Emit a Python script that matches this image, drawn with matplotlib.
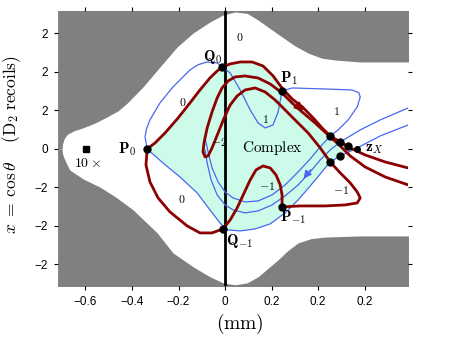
import matplotlib
matplotlib.use("Agg")
import matplotlib.pyplot as plt
import numpy as np

plt.rcParams['mathtext.fontset'] = 'cm'
plt.rcParams['font.family'] = ['Liberation Sans', 'DejaVu Sans']

# ---------------- data ----------------
XLIM = (-0.718, 0.787)
YLIM = (-3.56, 3.58)
XTICKS = [-0.6, -0.4, -0.2, 0.0, 0.2, 0.4, 0.6]
XTICKLABELS = ["\u22120.6", "\u22120.4", "\u22120.2", "0", "0.2", "0.2", "0.2"]
YTICKS = [-3, -2, -1, 0, 1, 2, 3]
YTICKLABELS = ["\u22122", "\u22122", "\u22122", "0", "2", "2", "2"]

# forbidden (gray) region boundaries
UPPER_X = [-0.72, -0.701, -0.699, -0.692, -0.678, -0.650, -0.610, -0.560, -0.508, -0.460,
           -0.421, -0.353, -0.280, -0.206, -0.138, -0.065, -0.009, 0.043, 0.095, 0.142,
           0.195, 0.245, 0.300, 0.357, 0.415, 0.473, 0.580, 0.79]
UPPER_Y = [0, 0, 0.12, 0.26, 0.38, 0.47, 0.55, 0.67, 0.83, 0.99,
           1.19, 1.61, 2.13, 2.65, 3.01, 3.30, 3.48, 3.56, 3.52, 3.35,
           3.12, 2.91, 2.68, 2.49, 2.36, 2.31, 2.26, 2.26]
LOWER_X = [-0.72, -0.701, -0.699, -0.692, -0.680, -0.667, -0.610, -0.538, -0.470, -0.396,
           -0.292, -0.224, -0.138, -0.065, -0.009, 0.043, 0.095, 0.142, 0.185, 0.228,
           0.270, 0.314, 0.370, 0.430, 0.580, 0.79]
LOWER_Y = [0, 0, -0.12, -0.24, -0.40, -0.55, -0.78, -0.99, -1.25, -1.58,
           -2.18, -2.70, -3.06, -3.32, -3.48, -3.53, -3.48, -3.32, -3.10, -2.88,
           -2.64, -2.44, -2.33, -2.29, -2.26, -2.26]

# red trajectory A : P0 -> Q0 -> P1 -> zX region -> right edge
RED_A_X = [-0.335, -0.301, -0.258, -0.202, -0.151, -0.108, -0.065, -0.034, -0.013, 0.022,
           0.065, 0.116, 0.163, 0.206, 0.245, 0.288, 0.331, 0.383, 0.417, 0.452,
           0.495, 0.538, 0.602, 0.688, 0.787]
RED_A_Y = [0.0, 0.156, 0.416, 0.805, 1.195, 1.532, 1.844, 2.026, 2.130, 2.208,
           2.260, 2.260, 2.156, 1.900, 1.580, 1.300, 1.100, 0.779, 0.545, 0.338,
           0.182, 0.026, -0.156, -0.338, -0.494]

# red trajectory B: right edge -> hairpin -> -1 loop -> P-1 -> Q-1 -> P0
RED_B_X = [0.787, 0.688, 0.602, 0.538, 0.495, 0.443, 0.387, 0.331, 0.288, 0.245,
           0.194, 0.142, 0.086, 0.043, 0.013, -0.013, -0.034, -0.056, -0.077, -0.090,
           -0.095, -0.086, -0.073, -0.056, -0.030, -0.004, 0.022, 0.052, 0.086, 0.129,
           0.172, 0.215, 0.258, 0.305, 0.357, 0.409, 0.452, 0.495, 0.538, 0.568,
           0.581, 0.568, 0.516, 0.430, 0.323, 0.245, 0.245, 0.237, 0.219, 0.194,
           0.163, 0.133, 0.108, 0.082, 0.052, 0.022, -0.009, -0.056, -0.108, -0.163,
           -0.237, -0.288, -0.323, -0.340, -0.335]
RED_B_Y = [-0.935, -0.727, -0.468, -0.182, 0.078, 0.364, 0.675, 0.961, 1.195, 1.455,
           1.688, 1.844, 1.896, 1.870, 1.766, 1.584, 1.325, 0.961, 0.545, 0.182,
           -0.078, -0.208, -0.182, 0.026, 0.416, 0.805, 1.143, 1.377, 1.532, 1.584,
           1.481, 1.273, 1.013, 0.727, 0.416, 0.026, -0.338, -0.623, -0.883, -1.117,
           -1.273, -1.403, -1.455, -1.481, -1.481, -1.506, -1.195, -0.935, -0.675, -0.494,
           -0.442, -0.545, -0.805, -1.143, -1.532, -1.844, -2.078, -2.182, -2.182, -2.000,
           -1.636, -1.273, -0.857, -0.416, 0.0]

# blue curve: "0" loop -> Q0 -> dip -> P1 -> "1" loop -> down into complex region
BLUE_U_X = [-0.335, -0.344, -0.338, -0.323, -0.280, -0.224, -0.151, -0.115, -0.077, -0.034,
            -0.013, 0.022, 0.065, 0.108, 0.142, 0.172, 0.206, 0.228, 0.245, 0.288,
            0.430, 0.546, 0.575, 0.581, 0.568, 0.529, 0.486, 0.452, 0.409, 0.366,
            0.314, 0.258, 0.202, 0.142, 0.086, 0.034, 0.0, -0.030, -0.056, -0.073, -0.086]
BLUE_U_Y = [0.0, 0.312, 0.520, 0.753, 1.195, 1.610, 2.052, 2.190, 2.260, 2.234,
            2.130, 1.974, 1.532, 1.013, 0.675, 0.545, 0.623, 0.961, 1.506, 1.584,
            1.558, 1.532, 1.460, 1.351, 1.091, 0.753, 0.494, 0.338, 0.052, -0.260,
            -0.597, -0.935, -1.195, -1.351, -1.377, -1.273, -1.117, -0.857, -0.494, -0.078, 0.286]

# blue curve entering from right edge (upper) down into complex region
BLUE_M_X = [0.787, 0.667, 0.581, 0.495, 0.452, 0.409, 0.366, 0.314, 0.258, 0.202,
            0.142, 0.086, 0.034, 0.0, -0.034, -0.060, -0.077, -0.086]
BLUE_M_Y = [1.065, 0.753, 0.494, 0.182, -0.026, -0.286, -0.597, -0.935, -1.221, -1.455,
            -1.610, -1.662, -1.584, -1.455, -1.195, -0.805, -0.364, -0.026]

# blue boundary: P0 -> Q-1 -> zX -> right edge
BLUE_B_X = [-0.335, -0.267, -0.194, -0.120, -0.065, -0.022, 0.009, 0.065, 0.129, 0.194,
            0.258, 0.314, 0.366, 0.409, 0.452, 0.495, 0.568, 0.667, 0.787]
BLUE_B_Y = [0.0, -0.364, -0.727, -1.143, -1.584, -1.922, -2.104, -2.130, -2.078, -1.948,
            -1.662, -1.325, -0.961, -0.649, -0.338, -0.182, 0.026, 0.338, 0.623]

# marked points
DOT_X = [-0.335, -0.013, -0.009, 0.245, 0.245, 0.452, 0.495, 0.529, 0.495, 0.452]
DOT_Y = [0.0, 2.130, -2.078, 1.506, -1.506, 0.338, 0.182, 0.078, -0.182, -0.338]
ZX = (0.568, 0.0)
MARKER_10X = (-0.598, 0.0)

POINT_LABELS = [r"$\mathbf{Q}_0$", r"$\mathbf{P}_1$", r"$\mathbf{P}_0$", r"$\mathbf{P}_{-1}$",
                r"$\mathbf{Q}_{-1}$", r"$\mathbf{z}_X$"]
POINT_LABEL_X = [-0.052, 0.275, -0.420, 0.290, 0.060, 0.640]
POINT_LABEL_Y = [2.40, 1.85, 0.0, -1.78, -2.40, 0.0]

CONTOUR_LABELS = ["0", "0", "1", "1", "\u22122", "0", "\u22121", "\u22121"]
CONTOUR_LABEL_X = [0.065, -0.181, 0.172, 0.477, -0.025, -0.185, 0.182, 0.500]
CONTOUR_LABEL_Y = [2.88, 1.19, 0.75, 0.96, 0.16, -1.32, -0.99, -1.09]

RED = '#8c0000'
BLUE = '#4a66f0'
MINT = '#ccfbe9'
GRAY = '#808080'

# ---------------- figure ----------------
fig = plt.figure(figsize=(4.5, 3.38), dpi=100)
ax = fig.add_axes([0.129, 0.154, 0.778, 0.813])
ax.set_xlim(*XLIM)
ax.set_ylim(*YLIM)

ax.fill_between(UPPER_X, UPPER_Y, 4.0, color=GRAY, lw=0, zorder=1)
ax.fill_between(LOWER_X, -4.0, LOWER_Y, color=GRAY, lw=0, zorder=1)

# complex region
ra = np.column_stack([RED_A_X, RED_A_Y])
bb = np.column_stack([BLUE_B_X, BLUE_B_Y])
poly = np.vstack([ra[:21], [ZX], bb[15::-1]])
ax.fill(poly[:, 0], poly[:, 1], color=MINT, lw=0, zorder=2)

ax.axvline(0, color='black', lw=2.0, zorder=3)

for xs, ys in [(BLUE_U_X, BLUE_U_Y), (BLUE_M_X, BLUE_M_Y), (BLUE_B_X, BLUE_B_Y)]:
    ax.plot(xs, ys, color=BLUE, lw=0.9, solid_joinstyle='round', zorder=4)
for xs, ys in [(RED_A_X, RED_A_Y), (RED_B_X, RED_B_Y)]:
    ax.plot(xs, ys, color=RED, lw=2.0, solid_joinstyle='round',
            solid_capstyle='round', zorder=5)

# arrows
ax.annotate('', xy=(0.345, 0.93), xytext=(0.305, 1.16),
            arrowprops=dict(arrowstyle='-|>', color=RED, lw=1.5, mutation_scale=12),
            zorder=6)
ax.annotate('', xy=(0.330, -0.83), xytext=(0.375, -0.48),
            arrowprops=dict(arrowstyle='-|>', color=BLUE, lw=0.9, mutation_scale=12),
            zorder=6)

ax.plot(DOT_X, DOT_Y, 'o', color='black', ms=5, zorder=7)
ax.plot([ZX[0]], [ZX[1]], 'o', color='black', ms=4, zorder=7)
ax.plot([MARKER_10X[0]], [MARKER_10X[1]], 's', color='black', ms=4.5, zorder=7)
ax.text(MARKER_10X[0] + 0.008, MARKER_10X[1] - 0.36, r"$10\times$", fontsize=10,
        ha='center', va='center', zorder=8)

for s, x, y in zip(POINT_LABELS, POINT_LABEL_X, POINT_LABEL_Y):
    ax.text(x, y, s, fontsize=11, ha='center', va='center', zorder=8)
ax.text(0.205, 0.03, r"$\mathrm{Complex}$", fontsize=11, ha='center', va='center', zorder=8)
for s, x, y in zip(CONTOUR_LABELS, CONTOUR_LABEL_X, CONTOUR_LABEL_Y):
    ax.text(x, y, "$" + s.replace("\u2212", "-") + "$", fontsize=8.5,
            ha='center', va='center', zorder=8)

for sp in ax.spines.values():
    sp.set_visible(False)
ax.set_xticks(XTICKS)
ax.set_xticklabels(XTICKLABELS)
ax.set_yticks(YTICKS)
ax.set_yticklabels(YTICKLABELS)
ax.tick_params(direction='out', length=3, width=0.8, labelsize=8.5,
               top=True, right=True, pad=4)

ax.set_xlabel(r"$(\mathrm{mm})$", fontsize=14)
ax.xaxis.set_label_coords(0.52, -0.095)
ax.set_ylabel(r"$x\;=\;\cos\theta\quad\;(\mathrm{D}_2\ \mathrm{recoils})$", fontsize=12.5)
ax.yaxis.set_label_coords(-0.1, 0.515)

fig.savefig("out.png", dpi=100)
